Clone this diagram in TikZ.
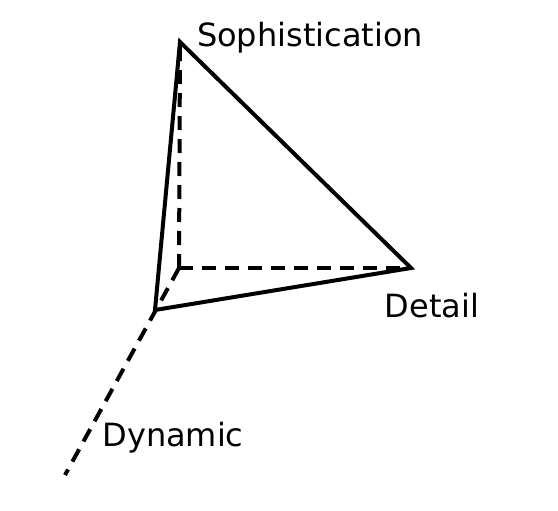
\documentclass[tikz,border=0pt]{standalone}
\usepackage{fontspec}
\setmainfont{DejaVu Sans}
\tikzset{
  kante/.style={black,line width=4pt,line join=miter},
  achse/.style={black,line width=4pt,dash pattern=on 14pt off 9pt},
  beschr/.style={font=\fontsize{32}{36}\selectfont,inner sep=0pt},
}

\begin{document}
\begin{tikzpicture}[x=1pt,y=-1pt]
  \useasboundingbox (0,0) rectangle (558,511);
  \coordinate (O) at (179,268);
  \coordinate (S) at (180,42);
  \coordinate (D) at (411,268);
  \coordinate (F) at (155,310);
  \coordinate (E) at (65,475);
  \draw[achse] (O)--(S);
  \draw[achse] (O)--(D);
  \draw[achse] (O)--(E);
  \draw[kante] (S)--(D)--(F)--cycle;
  \node[beschr] (soph) at (310,38) {Sophistication};
  \node[beschr] (det) at (432,306) {Detail};
  \node[beschr] (dyn) at (173,438) {Dynamic};
\end{tikzpicture}
\end{document}
